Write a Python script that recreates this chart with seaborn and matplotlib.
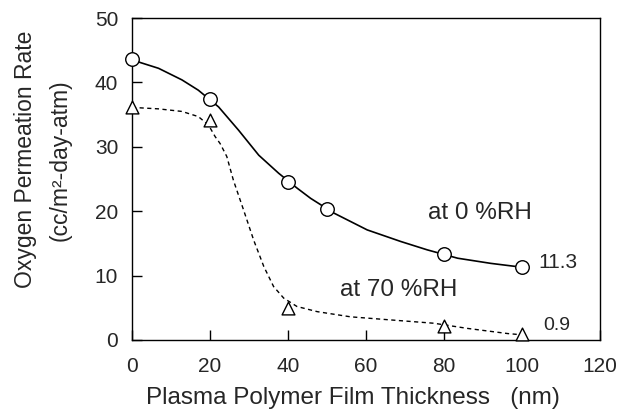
import matplotlib
matplotlib.use("Agg")
import matplotlib.pyplot as plt
import seaborn as sns
import pandas as pd

# Measured points
thickness_0rh = [0, 20, 40, 50, 80, 100]
rate_0rh = [43.6, 37.5, 24.6, 20.3, 13.4, 11.3]
thickness_70rh = [0, 20, 40, 80, 100]
rate_70rh = [36.2, 34.1, 5.0, 2.2, 0.9]

# Smooth guide curves
curve_0rh_x = [0, 2.1, 6.8, 12.8, 17.0, 22.2, 27.3, 32.5, 37.6, 42.3, 45.8, 51.8,
               60.3, 68.9, 75.7, 83.5, 92.0, 100]
curve_0rh_y = [43.6, 43.1, 42.2, 40.4, 38.8, 36.2, 32.6, 28.7, 25.9, 23.6, 22.0, 19.7,
               17.1, 15.3, 14.0, 12.7, 11.9, 11.3]
curve_70rh_x = [0, 0.8, 6.8, 12.8, 17.0, 19.6, 21.3, 22.6, 24.3, 26.0, 28.6, 31.2,
                33.8, 36.3, 38.9, 42.3, 47.5, 56.0, 64.5, 77.4, 86.0, 96.3, 100]
curve_70rh_y = [36.2, 36.1, 35.9, 35.5, 34.7, 33.4, 31.6, 30.5, 28.5, 24.8, 20.2, 15.5,
                11.4, 8.3, 6.5, 5.2, 4.4, 3.6, 3.2, 2.6, 1.8, 1.0, 0.8]

x_ticks = [0, 20, 40, 60, 80, 100, 120]
y_ticks = [0, 10, 20, 30, 40, 50]

sns.set_style("ticks")
plt.rcParams["font.family"] = ["Liberation Sans", "DejaVu Sans"]

fig = plt.figure(figsize=(6.21, 4.13), dpi=100)
ax = fig.add_axes([0.2126, 0.1768, 0.7536, 0.7794])

c0 = pd.DataFrame({"x": curve_0rh_x, "y": curve_0rh_y})
c70 = pd.DataFrame({"x": curve_70rh_x, "y": curve_70rh_y})
sns.lineplot(data=c0, x="x", y="y", sort=False, color="black", linewidth=1.2, ax=ax)
sns.lineplot(data=c70, x="x", y="y", sort=False, color="black", linewidth=1.0,
             linestyle=(0, (3, 2.5)), ax=ax)

p0 = pd.DataFrame({"x": thickness_0rh, "y": rate_0rh})
p70 = pd.DataFrame({"x": thickness_70rh, "y": rate_70rh})
sns.scatterplot(data=p0, x="x", y="y", marker="o", s=95, facecolor="white",
                edgecolor="black", linewidth=1.0, zorder=3, clip_on=False, ax=ax)
sns.scatterplot(data=p70, x="x", y="y", marker="^", s=85, facecolor="white",
                edgecolor="black", linewidth=1.0, zorder=3, clip_on=False, ax=ax)

ax.text(75.8, 19.7, "at 0 %RH", fontsize=17.5, va="center", ha="left")
ax.text(53.3, 7.8, "at 70 %RH", fontsize=17.5, va="center", ha="left")
ax.text(104.2, 12.1, "11.3", fontsize=15, va="center", ha="left")
ax.text(105.5, 2.3, "0.9", fontsize=14, va="center", ha="left")

ax.set_xlim(0, 120)
ax.set_ylim(0, 50)
ax.set_xticks(x_ticks)
ax.set_yticks(y_ticks)
ax.tick_params(direction="in", length=7, width=1, labelsize=15, color="black")
ax.tick_params(axis="x", pad=12)
ax.tick_params(axis="y", pad=10)
for s in ax.spines.values():
    s.set_linewidth(1.0)
    s.set_color("black")

ax.set_xlabel("Plasma Polymer Film Thickness   (nm)", fontsize=17.5)
ax.xaxis.set_label_coords(0.471, -0.145)
ax.set_ylabel("Oxygen Permeation Rate\n(cc/m²-day-atm)", fontsize=16.5,
              linespacing=1.6)
ax.yaxis.set_label_coords(-0.13, 0.56)

fig.savefig("out.png", dpi=100)
